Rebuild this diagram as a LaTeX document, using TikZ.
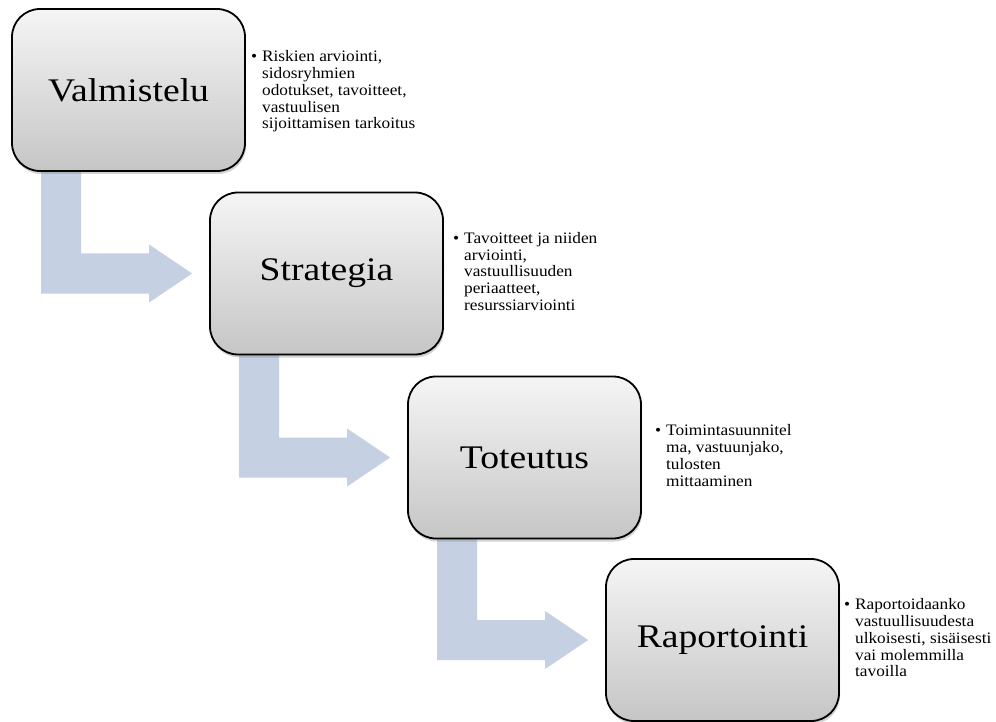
\documentclass[tikz,border=0pt]{standalone}
\usepackage{fontspec}
\setmainfont{Liberation Serif}
\newfontfamily\stagefont[FakeStretch=1.14]{Liberation Serif}
\newfontfamily\notefont[FakeStretch=1.08]{Liberation Serif}
\usetikzlibrary{calc,shadows,backgrounds}
\definecolor{arrowblue}{RGB}{197,208,227}

\begin{document}
\begin{tikzpicture}[x=1pt,y=-1pt,
    stage/.style={draw, line width=1.8pt, rounded corners=28pt,
      minimum width=233pt, minimum height=162pt,
      top color=gray!8, bottom color=gray!45,
      drop shadow={opacity=0.35, shadow xshift=1pt, shadow yshift=-3pt},
      font=\stagefont\fontsize{33}{40}\selectfont},
    note/.style={anchor=west, inner sep=0pt,
      font=\notefont\fontsize{16}{16.8}\selectfont},
    flowarrow/.style={fill=arrowblue}
  ]
  \useasboundingbox (0,0) rectangle (996,722);

  \node[stage] (valm)  at (128.5,90)  {Valmistelu};
  \node[stage] (strat) at (326.5,273.5) {Strategia};
  \node[stage] (tot)   at (524.5,457.5) {Toteutus};
  \node[stage] (rap)   at (722.5,640) {Raportointi};

  \node[note] (valm-note) at ($(valm.east)+(5,2)$) {%
    \begin{tabular}{@{}l@{\hspace{5pt}}l@{}}
      \textbullet & Riskien arviointi,\\
      & sidosryhmien\\
      & odotukset, tavoitteet,\\
      & vastuulisen\\
      & sijoittamisen tarkoitus
    \end{tabular}};
  \node[note] (strat-note) at ($(strat.east)+(9,0)$) {%
    \begin{tabular}{@{}l@{\hspace{5pt}}l@{}}
      \textbullet & Tavoitteet ja niiden\\
      & arviointi,\\
      & vastuullisuuden\\
      & periaatteet,\\
      & resurssiarviointi
    \end{tabular}};
  \node[note] (tot-note) at ($(tot.east)+(13,0)$) {%
    \begin{tabular}{@{}l@{\hspace{5pt}}l@{}}
      \textbullet & Toimintasuunnitel\\
      & ma, vastuunjako,\\
      & tulosten\\
      & mittaaminen
    \end{tabular}};
  \node[note] (rap-note) at ($(rap.east)+(4,0)$) {%
    \begin{tabular}{@{}l@{\hspace{5pt}}l@{}}
      \textbullet & Raportoidaanko\\
      & vastuullisuudesta\\
      & ulkoisesti, sisäisesti\\
      & vai molemmilla\\
      & tavoilla
    \end{tabular}};

  % bent arrows from one stage to the next
  \begin{scope}[on background layer]
    \foreach \cur/\nxt in {valm/strat, strat/tot, tot/rap}
      \fill[flowarrow] ($(\cur.south west)+(30,-10)$)
        |- ($(\nxt.west)+(-60,20)$) -- ++(0,9)
        -- ($(\nxt.west)+(-17,0)$) -- ++(-43,-29) -- ++(0,9)
        -| ($(\cur.south west)+(70,-10)$) -- cycle;
  \end{scope}
\end{tikzpicture}
\end{document}
